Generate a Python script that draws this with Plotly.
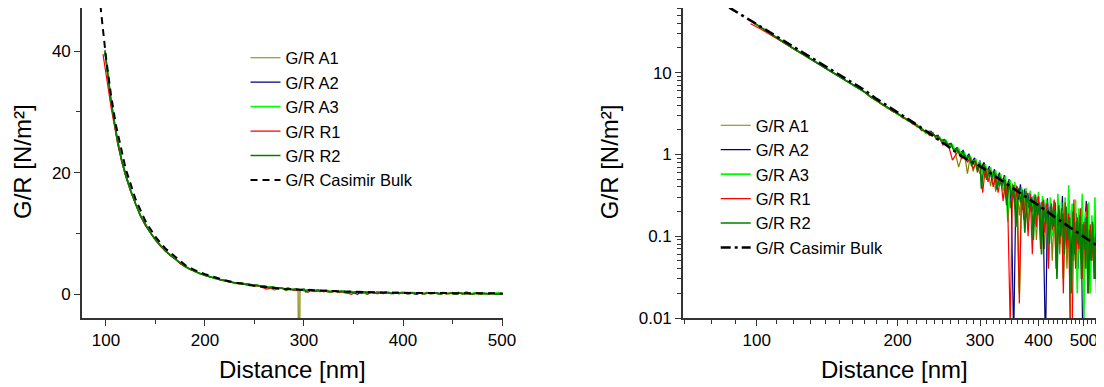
import plotly.graph_objects as go

# ---------------- data ----------------
distance = [97, 99, 102, 105, 108, 112, 116, 120, 125, 130, 135, 140, 145, 150, 155, 160,
            165, 170, 175, 180, 185, 190, 195, 200, 205, 210, 215, 220, 225, 230,
            234, 238, 242, 246, 250, 254, 258, 262, 266, 270, 274, 278, 282, 286, 290, 294,
            295, 296, 300, 304, 308, 312, 316, 320, 324, 328, 332, 336, 340, 344, 348, 352,
            356, 360, 364, 368, 372, 376, 380, 384, 388, 392, 396, 400, 404, 408, 412, 416,
            420, 424, 428, 432, 436, 440, 444, 448, 452, 456, 460, 464, 468, 472, 476, 480,
            484, 488, 492, 496, 500, 504, 508, 512, 516, 520, 524, 528, 532, 536, 540, 544,
            548, 552, 556, 560]

# second measurement grid (runs A2 and R2 were sampled half a step later)
distance_b = [97, 99, 102, 105, 108, 112, 116, 120, 125, 130, 135, 140, 145, 150, 155, 160,
              165, 170, 175, 180, 185, 190, 195, 200, 205, 210, 215, 220, 225, 230,
              236, 240, 244, 248, 252, 256, 260, 264, 268, 272, 276, 280, 284, 288, 292, 296,
              298, 300, 302, 306, 310, 314, 318, 322, 326, 330, 334, 338, 342, 346, 350, 354,
              358, 362, 366, 370, 374, 378, 382, 386, 390, 394, 398, 402, 406, 410, 414, 418,
              422, 426, 430, 434, 438, 442, 446, 450, 454, 458, 462, 466, 470, 474, 478, 482,
              486, 490, 494, 498, 502, 506, 510, 514, 518, 522, 526, 530, 534, 538, 542, 546,
              550, 554, 558, 562]

gr_a1 = [None, 40.2, 35.9, 32.1, 28.9, 25.1, 22.1, 19.7, 17.1, 14.8, 12.9, 11.5, 10.1, 8.98, 8.02, 7.12,
         6.45, 5.78, 5.10, 4.55, 4.16, 3.72, 3.45, 3.11, 2.91, 2.60, 2.46, 2.20, 2.08, 1.82,
         1.78, 1.82, 1.55, 1.60, 1.38, 1.45, 1.21, 1.28, 1.02, 0.70, 0.92, 1.01, 0.58, 0.95, 0.62, 0.83,
         -20, 0.71, 0.58, 0.77, 0.52, 0.68, 0.41, 0.63, 0.35, 0.58, 0.44, 0.51, 0.29, 0.47, 0.22, 0.44,
         0.31, 0.40, 0.18, 0.36, 0.25, 0.33, 0.12, 0.31, 0.20, 0.29, 0.09, 0.27, 0.16, 0.25, 0.07, 0.24,
         0.13, 0.21, 0.05, 0.19, 0.11, 0.22, 0.06, 0.17, 0.10, 0.20, 0.04, 0.15, 0.008, 0.18, 0.07, 0.13,
         0.03, 0.14, 0.06, 0.12, 0.02, 0.11, 0.05, 0.13, 0.03, 0.09, 0.06, 0.11, 0.02, 0.08, 0.05, 0.10,
         0.03, 0.07, 0.04, 0.09]

gr_a2 = [None, 39.8, 35.6, 31.8, 28.6, 24.8, 21.8, 19.4, 16.9, 14.7, 12.8, 11.3, 10.0, 8.92, 7.95, 7.18,
         6.38, 5.81, 5.05, 4.60, 4.10, 3.79, 3.38, 3.18, 2.84, 2.69, 2.40, 2.29, 2.00, 1.93,
         1.92, 1.70, 1.71, 1.49, 1.52, 1.33, 1.37, 1.14, 1.21, 1.03, 1.12, 0.90, 1.02, 0.80, 0.91, 0.72,
         0.80, 0.84, 0.66, 0.80, 0.57, 0.72, 0.48, 0.66, 0.44, 0.60, 0.38, 0.56, 0.33, 0.50, 0.25, 0.005,
         0.42, 0.28, 0.43, 0.21, 0.38, 0.17, 0.34, 0.20, 0.31, 0.14, 0.30, 0.18, 0.26, 0.10, 0.004, 0.29,
         0.12, 0.24, 0.15, 0.26, 0.08, 0.20, 0.13, 0.31, 0.07, 0.18, 0.11, 0.21, 0.05, 0.25, 0.09, 0.19,
         0.04, 0.15, 0.08, 0.003, 0.13, 0.27, 0.16, 0.04, 0.12, 0.07, 0.14, 0.03, 0.11, 0.05, 0.22, 0.04,
         0.10, 0.06, 0.12, 0.05]

gr_a3 = [None, 40.0, 35.7, 32.0, 28.7, 25.0, 22.0, 19.6, 17.0, 14.9, 12.9, 11.4, 10.2, 8.95, 8.05, 7.10,
         6.47, 5.75, 5.12, 4.52, 4.18, 3.70, 3.47, 3.09, 2.93, 2.58, 2.49, 2.17, 2.10, 1.80,
         1.80, 1.79, 1.60, 1.63, 1.41, 1.48, 1.25, 1.32, 1.09, 1.18, 0.97, 1.05, 0.85, 0.96, 0.75, 0.88,
         0.79, 0.70, 0.82, 0.62, 0.76, 0.55, 0.70, 0.50, 0.64, 0.42, 0.58, 0.36, 0.55, 0.15, 0.49, 0.30,
         0.46, 0.22, 0.02, 0.40, 0.19, 0.39, 0.14, 0.36, 0.23, 0.33, 0.12, 0.35, 0.09, 0.31, 0.17, 0.28,
         0.05, 0.30, 0.10, 0.27, 0.06, 0.33, 0.09, 0.26, 0.03, 0.30, 0.07, 0.42, 0.08, 0.25, 0.05, 0.28,
         0.02, 0.22, 0.06, 0.33, 0.01, 0.20, 0.04, 0.26, 0.02, 0.18, 0.05, 0.30, 0.03, 0.19, 0.02, 0.24,
         0.04, 0.36, 0.03, 0.30]

gr_r1 = [39.5, 37.6, 34.2, 30.9, 28.0, 24.6, 21.8, 19.4, 16.9, 14.7, 12.8, 11.3, 10.0, 8.90, 7.92, 7.14,
         6.36, 5.82, 5.02, 4.58, 4.07, 3.78, 3.36, 3.16, 2.80, 2.68, 2.36, 2.30, 1.95, 1.96,
         1.70, 1.84, 1.52, 1.58, 1.30, 1.42, 1.18, 0.85, 0.98, 1.12, 0.88, 0.99, 0.80, 0.91, 0.66, 0.82,
         0.74, 0.60, 0.77, 0.34, 0.71, 0.46, 0.64, 0.40, 0.58, 0.34, 0.53, 0.27, 0.49, 0.20, 0.008, 0.38,
         0.24, 0.41, 0.015, 0.35, 0.16, 0.36, 0.10, 0.33, 0.06, 0.30, 0.13, 0.31, 0.07, 0.27, 0.11, 0.25,
         0.04, 0.23, 0.12, 0.28, 0.04, 0.19, 0.08, 0.22, 0.02, 0.26, 0.07, 0.19, 0.005, 0.006, 0.28, 0.04,
         0.17, 0.07, 0.22, 0.03, 0.15, 0.04, 0.25, 0.02, 0.14, 0.05, 0.10, 0.03, 0.20, 0.06, 0.09, 0.02,
         0.27, 0.05, 0.08, 0.04]

gr_r2 = [None, 40.1, 35.8, 32.0, 28.8, 25.0, 22.0, 19.6, 17.1, 14.8, 12.9, 11.4, 10.1, 9.00, 8.00, 7.16,
         6.43, 5.80, 5.09, 4.57, 4.14, 3.76, 3.43, 3.14, 2.88, 2.63, 2.44, 2.23, 2.05, 1.87,
         1.88, 1.68, 1.66, 1.47, 1.50, 1.30, 1.34, 1.10, 1.17, 0.96, 1.07, 0.86, 0.97, 0.72, 0.86, 0.64,
         0.71, 0.79, 0.38, 0.74, 0.49, 0.66, 0.52, 0.61, 0.37, 0.55, 0.41, 0.50, 0.24, 0.46, 0.31, 0.42,
         0.13, 0.39, 0.26, 0.37, 0.11, 0.34, 0.22, 0.30, 0.09, 0.32, 0.18, 0.26, 0.06, 0.28, 0.14, 0.22,
         0.08, 0.25, 0.13, 0.21, 0.03, 0.24, 0.10, 0.19, 0.06, 0.23, 0.09, 0.17, 0.02, 0.20, 0.06, 0.15,
         0.08, 0.18, 0.03, 0.14, 0.07, 0.17, 0.02, 0.12, 0.05, 0.15, 0.03, 0.11, 0.06, 0.13, 0.01, 0.10,
         0.05, 0.12, 0.02, 0.09]

casimir_distance = [80, 85, 90, 95, 100, 105, 110, 120, 130, 140, 150, 160, 170, 180, 190, 200,
                    220, 240, 260, 280, 300, 330, 360, 400, 450, 500, 550, 600]
casimir_values = [85, 68.9, 56.4, 46.6, 39, 32.9, 27.9, 20.6, 15.6, 12.0, 9.43, 7.53, 6.09, 4.8,
                  3.95, 3.3, 2.3, 1.63, 1.18, 0.88, 0.72, 0.50, 0.36, 0.238, 0.148, 0.098, 0.068, 0.052]

series_names = ["G/R A1", "G/R A2", "G/R A3", "G/R R1", "G/R R2"]
series_values = [gr_a1, gr_a2, gr_a3, gr_r1, gr_r2]
series_x = [distance, distance_b, distance, distance, distance_b]
series_colors = ["#808000", "#000080", "#00ff00", "#ff0000", "#008000"]
series_widths = [1.2, 1.2, 1.6, 1.2, 1.6]
casimir_name = "G/R Casimir Bulk"

linear_x_ticks = [100, 200, 300, 400, 500]
linear_y_ticks = [0, 20, 40]
log_x_ticks = [100, 200, 300, 400, 500]
log_y_ticks = [0.01, 0.1, 1, 10]
log_y_labels = ["0.01", "0.1", "1", "10"]

# ---------------- figure ----------------
FONT = "Liberation Sans, Arial, sans-serif"
# the page body has an 8px margin: the figure covers the window from (8, 8)
OFF = 8
W, H = 1104 - OFF, 387 - OFF


def px(x):
    return (x - OFF) / W


def py(y):
    return 1 - (y - OFF) / H


fig = go.Figure()

for name, xs, vals, col, lw in zip(series_names, series_x, series_values, series_colors, series_widths):
    fig.add_trace(go.Scatter(x=xs, y=vals, mode="lines", name=name,
                             line=dict(color=col, width=lw),
                             xaxis="x", yaxis="y", legend="legend"))
fig.add_trace(go.Scatter(x=casimir_distance, y=casimir_values, mode="lines", name=casimir_name,
                         line=dict(color="black", width=2, dash="7px,5px"),
                         xaxis="x", yaxis="y", legend="legend"))

for name, xs, vals, col, lw in zip(series_names, series_x, series_values, series_colors, series_widths):
    # non-positive values cannot be shown on a log axis: leave them out
    log_vals = [v if (v is not None and v > 0) else None for v in vals]
    fig.add_trace(go.Scatter(x=xs, y=log_vals, mode="lines", name=name,
                             line=dict(color=col, width=lw), connectgaps=True,
                             xaxis="x2", yaxis="y2", legend="legend2"))
fig.add_trace(go.Scatter(x=casimir_distance, y=casimir_values, mode="lines", name=casimir_name,
                         line=dict(color="black", width=2.6, dash="10px,4px,3px,4px"),
                         xaxis="x2", yaxis="y2", legend="legend2"))

ydom = [py(318), py(8)]
axis_common = dict(showline=True, linecolor="#333333", linewidth=1.6, ticks="outside",
                   ticklen=6, tickwidth=1.4, tickcolor="#333333", showgrid=False, zeroline=False,
                   tickfont=dict(family=FONT, size=17, color="black"), mirror=False,
                   automargin=False)

fig.update_layout(
    width=W, height=H, margin=dict(l=0, r=0, t=0, b=0, autoexpand=False),
    paper_bgcolor="white", plot_bgcolor="white",
    font=dict(family=FONT, color="black"),
    xaxis=dict(domain=[px(82), px(502.7)], range=[75.8, 500.7], anchor="y",
               tickmode="array", tickvals=linear_x_ticks,
               minor=dict(tickmode="array", tickvals=[150, 250, 350, 450], ticks="outside",
                          ticklen=4, tickwidth=1.4, tickcolor="#333333"),
               **axis_common),
    yaxis=dict(domain=ydom, range=[-3.9, 47.1], anchor="x",
               tickmode="array", tickvals=linear_y_ticks,
               minor=dict(tickmode="array", tickvals=[10, 30], ticks="outside",
                          ticklen=4, tickwidth=1.4, tickcolor="#333333"),
               **axis_common),
    xaxis2=dict(domain=[px(683), 1.0], type="log", range=[1.8425, 2.742], anchor="y2",
                tickmode="array", tickvals=log_x_ticks, ticktext=[str(v) for v in log_x_ticks],
                minor=dict(tickmode="array",
                           tickvals=[v for v in range(70, 560, 10) if v not in log_x_ticks],
                           ticks="outside", ticklen=4, tickwidth=1.2, tickcolor="#333333"),
                **axis_common),
    yaxis2=dict(domain=ydom, type="log", range=[-2, 1.79], anchor="x2",
                tickmode="array", tickvals=log_y_ticks, ticktext=log_y_labels,
                minor=dict(tickmode="array",
                           tickvals=[m * 10 ** e for e in (-2, -1, 0, 1) for m in range(2, 10)],
                           ticks="outside", ticklen=4, tickwidth=1.2, tickcolor="#333333"),
                **axis_common),
    legend=dict(x=px(245.5), y=py(40.5), xanchor="left", yanchor="top",
                bgcolor="rgba(0,0,0,0)", font=dict(family=FONT, size=16.5, color="black"),
                tracegroupgap=0),
    legend2=dict(x=px(715.7), y=py(108), xanchor="left", yanchor="top",
                 bgcolor="rgba(0,0,0,0)", font=dict(family=FONT, size=16.5, color="black"),
                 tracegroupgap=0),
    showlegend=True,
)

title_font = dict(family=FONT, size=24, color="black")
fig.add_annotation(text="G/R [N/m²]", x=px(22.5), y=py(161.5), xref="paper", yref="paper",
                   textangle=-90, showarrow=False, font=title_font, xanchor="center", yanchor="middle")
fig.add_annotation(text="G/R [N/m²]", x=px(609.7), y=py(161.5), xref="paper", yref="paper",
                   textangle=-90, showarrow=False, font=title_font, xanchor="center", yanchor="middle")
fig.add_annotation(text="Distance [nm]", x=px(292.5), y=py(369), xref="paper", yref="paper",
                   showarrow=False, font=title_font, xanchor="center", yanchor="middle")
fig.add_annotation(text="Distance [nm]", x=px(894), y=py(369), xref="paper", yref="paper",
                   showarrow=False, font=title_font, xanchor="center", yanchor="middle")

fig.write_html("out.html")
